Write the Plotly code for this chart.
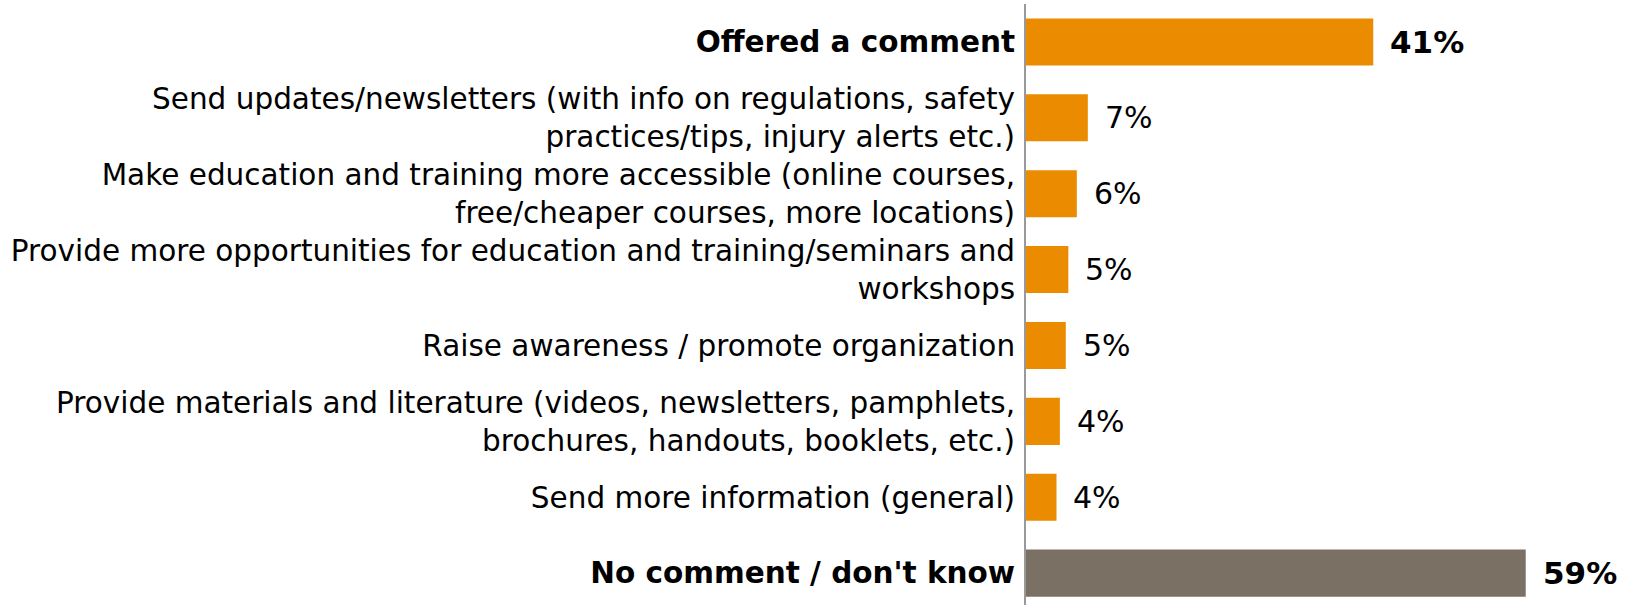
import plotly.graph_objects as go

categories = [
    "<b>Offered a comment</b>",
    "Send updates/newsletters (with info on regulations, safety<br>practices/tips, injury alerts etc.)",
    "Make education and training more accessible (online courses,<br>free/cheaper courses, more locations)",
    "Provide more opportunities for education and training/seminars and<br>workshops",
    "Raise awareness / promote organization",
    "Provide materials and literature (videos, newsletters, pamphlets,<br>brochures, handouts, booklets, etc.)",
    "Send more information (general)",
    "<b>No comment / don't know</b>",
]
values = [41, 7.3, 6.0, 5.0, 4.7, 4.0, 3.6, 59]
value_labels = ["<b>41%</b>", "7%", "6%", "5%", "5%", "4%", "4%", "<b>59%</b>"]
label_sizes = [31, 30, 30, 30, 30, 30, 30, 31]
bar_colors = ["#EB8C00"] * 7 + ["#7A7064"]

FONT = "DejaVu Sans"
positions = list(range(len(categories)))

fig = go.Figure()
fig.add_trace(go.Bar(
    x=values, y=positions, orientation="h",
    marker=dict(color=bar_colors, line=dict(width=0)),
    width=0.62, hoverinfo="skip",
))

for p, v, t, s in zip(positions, values, value_labels, label_sizes):
    fig.add_annotation(x=v, y=p, text=t, showarrow=False, xanchor="left",
                       yanchor="middle", xshift=15,
                       font=dict(family=FONT, size=s, color="#000000"))

fig.update_layout(
    width=1626, height=605,
    margin=dict(l=1026, r=0, t=4, b=0, autoexpand=False),
    plot_bgcolor="white", paper_bgcolor="white",
    showlegend=False,
    font=dict(family=FONT, color="#000000"),
)
fig.update_xaxes(range=[0, 70.84], visible=False, fixedrange=True,
                 automargin=False)
fig.update_yaxes(
    range=[7.42, -0.5], tickvals=positions, ticktext=categories,
    showline=True, linecolor="#999999", linewidth=2,
    showgrid=False, zeroline=False, ticks="", ticklabelstandoff=3,
    automargin=False, fixedrange=True,
    tickfont=dict(family=FONT, size=29.5, color="#000000"),
)

fig.write_html(
    "out.html",
    config={"displayModeBar": False},
    post_script="document.body.style.margin='0';document.body.style.overflow='hidden';",
)
